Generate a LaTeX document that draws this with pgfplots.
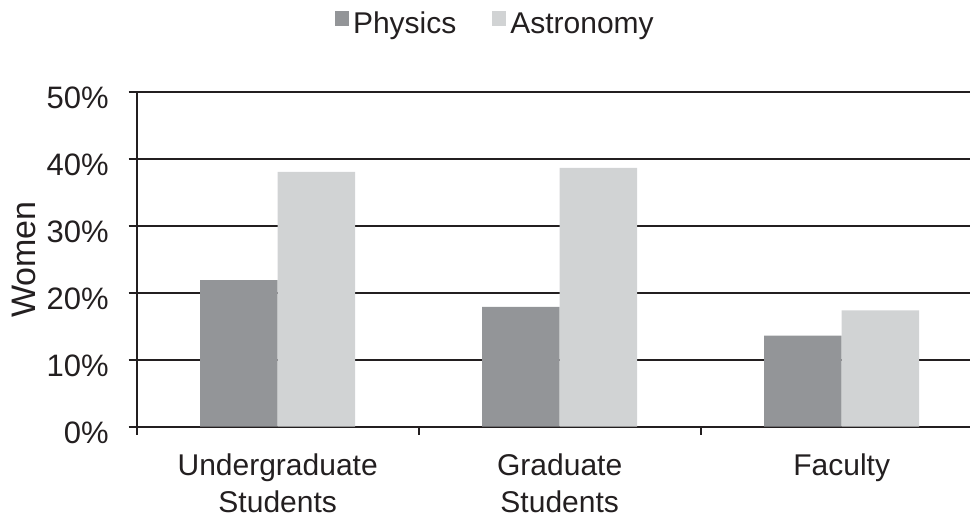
\documentclass[border=0pt]{standalone}
\usepackage{fontspec}
\setmainfont{Liberation Sans}
\usepackage{pgfplots}
\pgfplotsset{compat=1.18}
\definecolor{phys}{HTML}{939598}
\definecolor{astro}{HTML}{D1D3D4}
\definecolor{lc}{HTML}{231F20}
\newcommand\fsz{\fontsize{15bp}{18.5bp}\selectfont}
\pgfplotsset{sqlegend/.style={legend image code/.code={\fill[##1] (0bp,-1bp) rectangle (7bp,6.5bp);}}}
\begin{document}
\begin{tikzpicture}
\begin{axis}[
 scale only axis, width=416.65bp, height=167.2bp,
 xmin=-0.5, xmax=2.455, ymin=0, ymax=50,
 ybar=0pt, bar width=38.75bp,
 axis x line=bottom, axis y line=left,
 axis line style={-, lc, line width=1bp},
 xtick={-0.5,0.5,1.5}, xticklabels={},
 extra x ticks={0,1,2},
 extra x tick labels={Undergraduate\\Students, Graduate\\Students, Faculty},
 extra x tick style={major tick length=0pt, grid=none},
 ytick={0,10,20,30,40,50},
 yticklabels={0\%,10\%,20\%,30\%,40\%,50\%},
 tick align=outside, major tick length=4bp,
 tick style={lc, line width=1bp},
 ymajorgrids, grid style={lc, line width=1bp},
 tick label style={font=\fsz, text=lc},
 label style={font=\fsz, text=lc},
 xticklabel style={align=center, yshift=-10bp},
 yticklabel style={font=\fontsize{15.5bp}{18bp}\selectfont, xshift=-6.5bp, yshift=-3bp},
 ylabel={Women},
 ylabel style={at={(axis description cs:-0.1358,0.5)}, anchor=center, font=\fontsize{17bp}{20bp}\selectfont},
 legend style={at={(axis description cs:0.238,1)}, anchor=south west, yshift=25.8bp,
   draw=none, fill=none, font=\fsz, text=lc, inner sep=0pt, outer sep=0pt,
   legend columns=2, /tikz/every even column/.append style={column sep=16bp}},
 legend cell align=left,
]
\addplot[fill=phys, draw=none, sqlegend] coordinates {(0,21.9) (1,17.9) (2,13.6)};
\addplot[fill=astro, draw=none, sqlegend] coordinates {(0,38.1) (1,38.7) (2,17.4)};
\legend{Physics, Astronomy}
\end{axis}
\pgfresetboundingbox
\useasboundingbox (-68.35bp,-44.65bp) rectangle (416.65bp,213.35bp);
\end{tikzpicture}
\end{document}
